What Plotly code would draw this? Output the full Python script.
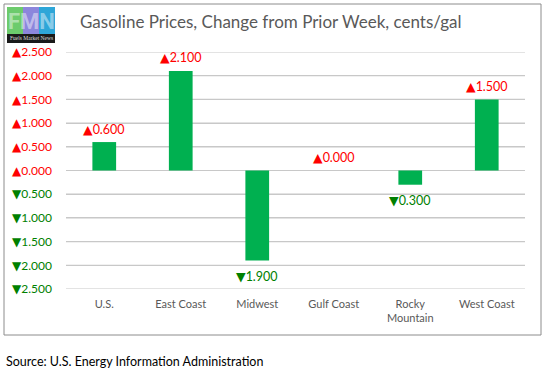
import plotly.graph_objects as go

categories = ["U.S.", "East Coast", "Midwest", "Gulf Coast", "Rocky<br>Mountain", "West Coast"]
values = [0.6, 2.1, -1.9, 0.0, -0.3, 1.5]
tick_vals = [2.5, 2.0, 1.5, 1.0, 0.5, 0.0, -0.5, -1.0, -1.5, -2.0, -2.5]

RED = "#FF0000"
GREEN_TXT = "#008000"
BAR = "#00B050"
GRID = "#C8C8C8"
FONT = "Lato"
TRI = "<span style='font-family:DejaVu Sans'>%s</span>"

def fmt(v):
    if v >= 0:
        return TRI % "▲" + "%.3f" % abs(v)
    return TRI % "▼" + "%.3f" % abs(v)

tick_text = ["<span style='color:%s'>%s</span>" % (RED if v >= 0 else GREEN_TXT, fmt(v)) for v in tick_vals]

fig = go.Figure()
fig.add_trace(go.Bar(x=categories, y=values, marker=dict(color=BAR, line=dict(width=0)),
                     hoverinfo="skip", showlegend=False))

L, R, T, B = 66, 20, 52, 89
W, H = 545, 378
pw, ph = W - L - R, H - T - B

def px_x(p):
    return (p - L) / pw

def px_y(p):
    return 1 - (p - T) / ph

shapes = []
# horizontal gridlines at each tick value
for tv in tick_vals:
    shapes.append(dict(type="line", xref="paper", yref="y", x0=0, x1=1, y0=tv, y1=tv,
                       line=dict(color=GRID, width=1.2), layer="below"))

shapes += [
    dict(type="rect", xref="paper", yref="paper", x0=px_x(4), x1=px_x(541), y0=px_y(335), y1=px_y(4),
         line=dict(color="#8C8C8C", width=1), fillcolor="rgba(0,0,0,0)", layer="above"),
    # logo blocks
    dict(type="rect", xref="paper", yref="paper", x0=px_x(7), x1=px_x(23), y0=px_y(34), y1=px_y(7),
         line=dict(width=0), fillcolor="#6CCB6C"),
    dict(type="rect", xref="paper", yref="paper", x0=px_x(23), x1=px_x(39), y0=px_y(34), y1=px_y(7),
         line=dict(width=0), fillcolor="#8C86DC"),
    dict(type="rect", xref="paper", yref="paper", x0=px_x(39), x1=px_x(55), y0=px_y(34), y1=px_y(7),
         line=dict(width=0), fillcolor="#2EA6D8"),
    dict(type="rect", xref="paper", yref="paper", x0=px_x(7), x1=px_x(55), y0=px_y(43), y1=px_y(34),
         line=dict(width=0), fillcolor="#1A1A1A"),
]

annotations = [
    dict(xref="paper", yref="paper", x=px_x(78), y=px_y(22), xanchor="left", yanchor="middle",
         text="Gasoline Prices, Change from Prior Week, cents/gal", showarrow=False,
         font=dict(size=17, color="#595959", family=FONT)),
    dict(xref="paper", yref="paper", x=px_x(4), y=px_y(361), xanchor="left", yanchor="middle",
         text="Source: U.S. Energy Information Administration", showarrow=False,
         font=dict(size=12.5, color="#000000", family=FONT)),
    dict(xref="paper", yref="paper", x=px_x(31), y=px_y(21), xanchor="center", yanchor="middle",
         text="<b>FMN</b>", showarrow=False, font=dict(size=22, color="rgba(255,255,255,0.45)", family="Roboto")),
    dict(xref="paper", yref="paper", x=px_x(31), y=px_y(38.5), xanchor="center", yanchor="middle",
         text="Fuels Market News", showarrow=False, font=dict(size=5.5, color="#DDDDDD", family="Liberation Sans Narrow")),
]

# data labels
for c, v in zip(categories, values):
    pos = v >= 0
    annotations.append(dict(x=c, y=v, xref="x", yref="y", text=fmt(v), showarrow=False,
                            xanchor="center", yanchor="middle", yshift=13 if pos else -16,
                            font=dict(size=12.5, color=RED if pos else GREEN_TXT, family=FONT)))

fig.update_layout(
    width=W, height=H,
    margin=dict(l=L, r=R, t=T, b=B, pad=0, autoexpand=False),
    paper_bgcolor="white", plot_bgcolor="rgba(0,0,0,0)",
    bargap=0.69,
    font=dict(family=FONT, size=12),
    xaxis=dict(showgrid=False, showline=False, ticks="", tickfont=dict(size=11, color="#595959"),
               fixedrange=True, automargin=False, ticklabelstandoff=7),
    yaxis=dict(range=[-2.5, 2.5], tickmode="array", tickvals=tick_vals, ticktext=tick_text, showgrid=True,
               gridcolor=GRID, gridwidth=1, zeroline=True, zerolinecolor=GRID, zerolinewidth=1,
               showline=False, ticks="", tickfont=dict(size=12), fixedrange=True,
               automargin=False, ticklabelstandoff=13),
    shapes=shapes,
    annotations=annotations,
)

fig.write_html("out.html", config={"displayModeBar": False},
               post_script="document.body.style.margin='0';document.body.style.overflow='hidden';")
